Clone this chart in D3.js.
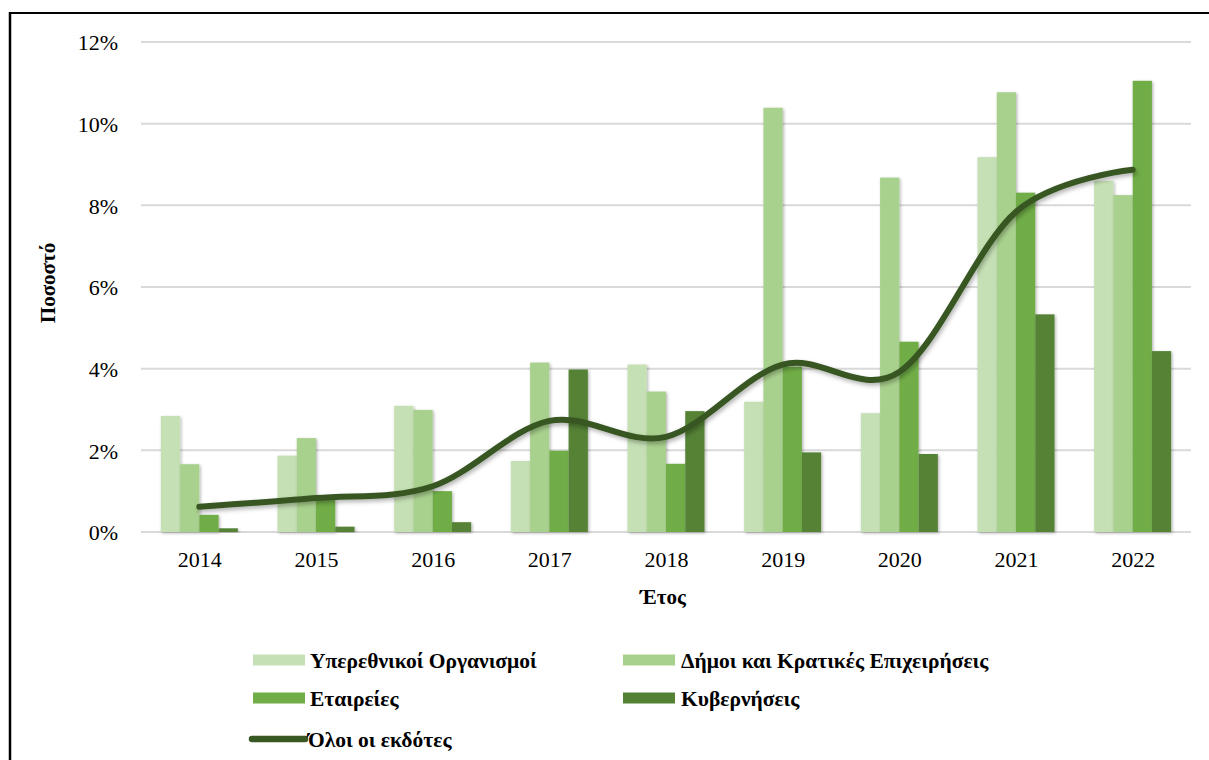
<!DOCTYPE html>
<html>
<head>
<meta charset="utf-8">
<script src="https://cdn.jsdelivr.net/npm/d3@7/dist/d3.min.js"></script>
<style>
  html, body { margin: 0; padding: 0; background: #fff; }
  svg text { font-family: "Liberation Serif", "Times New Roman", "DejaVu Serif", serif; fill: #000; }
</style>
</head>
<body>
<svg id="chart" width="1209" height="760"></svg>
<script>
// Share of issuance per issuer type, by year (percent)
const years = ["2014", "2015", "2016", "2017", "2018", "2019", "2020", "2021", "2022"];
const seriesNames = ["Υπερεθνικοί Οργανισμοί", "Δήμοι και Κρατικές Επιχειρήσεις", "Εταιρείες", "Κυβερνήσεις"];
const supranational = [2.84, 1.87, 3.09, 1.74, 4.10, 3.19, 2.91, 9.18, 8.60];
const municipal     = [1.66, 2.30, 2.99, 4.15, 3.44, 10.39, 8.68, 10.77, 8.25];
const corporate     = [0.42, 0.80, 1.00, 1.99, 1.67, 4.05, 4.66, 8.31, 11.05];
const government    = [0.09, 0.13, 0.24, 3.98, 2.96, 1.95, 1.91, 5.33, 4.43];
const allIssuers    = [0.62, 0.83, 1.12, 2.72, 2.33, 4.10, 3.92, 7.84, 8.87];
const lineName = "Όλοι οι εκδότες";
const yTicks = [0, 2, 4, 6, 8, 10, 12];

const colors = ["#c5e0b4", "#a9d18e", "#70ad47", "#548235"];
const lineColor = "#385723";
const seriesValues = [supranational, municipal, corporate, government];
const serif = "'Liberation Serif', 'Times New Roman', 'DejaVu Serif', serif";

const svg = d3.select("#chart");

// drop shadows for bars and line
const defs = svg.append("defs");
defs.append("filter").attr("id", "barShadow")
  .attr("x", "-20%").attr("y", "-5%").attr("width", "160%").attr("height", "120%")
  .append("feDropShadow").attr("dx", 1.2).attr("dy", 1.2).attr("stdDeviation", 1.4)
  .attr("flood-color", "#000").attr("flood-opacity", 0.3);
defs.append("filter").attr("id", "lineShadow")
  .attr("x", "-10%").attr("y", "-10%").attr("width", "120%").attr("height", "130%")
  .append("feDropShadow").attr("dx", 1.5).attr("dy", 2.5).attr("stdDeviation", 2)
  .attr("flood-color", "#000").attr("flood-opacity", 0.3);

// outer frame (left and top edges)
svg.append("line").attr("x1", 10).attr("y1", 13).attr("x2", 1209).attr("y2", 13)
  .attr("stroke", "#000").attr("stroke-width", 2);
svg.append("line").attr("x1", 10).attr("y1", 12).attr("x2", 10).attr("y2", 760)
  .attr("stroke", "#000").attr("stroke-width", 2.5);

const plot = { left: 141, right: 1191, top: 42, bottom: 532 };

const x = d3.scaleBand().domain(years).range([plot.left, plot.right])
  .paddingInner(0.34).paddingOuter(0.17);
const xCenter = d3.scalePoint().domain(years).range([plot.left, plot.right]).padding(0.5);
const xSub = d3.scaleBand().domain(d3.range(4)).range([0, x.bandwidth()]);
const y = d3.scaleLinear().domain([0, 12]).range([plot.bottom, plot.top]);

// gridlines
svg.append("g").selectAll("line").data(yTicks).join("line")
  .attr("x1", plot.left).attr("x2", plot.right)
  .attr("y1", d => y(d)).attr("y2", d => y(d))
  .attr("stroke", "#d9d9d9").attr("stroke-width", 2);

// y axis labels
const yAxis = d3.axisLeft(y).tickValues(yTicks).tickFormat(d => d + "%").tickSize(0).tickPadding(0);
svg.append("g").attr("transform", `translate(118,0)`).call(yAxis)
  .attr("font-family", serif)
  .call(g => g.select(".domain").remove())
  .call(g => g.selectAll("text").attr("font-size", 22).style("font-family", serif).attr("dy", "0.35em"));

// x axis labels
const xAxis = d3.axisBottom(xCenter).tickSize(0).tickPadding(0);
svg.append("g").attr("transform", `translate(0,${plot.bottom + 19})`).call(xAxis)
  .attr("font-family", serif)
  .call(g => g.select(".domain").remove())
  .call(g => g.selectAll("text").attr("font-size", 22).style("font-family", serif).attr("dy", "0.71em"));

// bars
const barData = [];
years.forEach((yr, i) => seriesValues.forEach((vals, s) => barData.push({ yr, s, v: vals[i] })));
svg.append("g").selectAll("rect").data(barData).join("rect")
  .attr("x", d => x(d.yr) + xSub(d.s))
  .attr("width", xSub.bandwidth())
  .attr("y", d => y(d.v))
  .attr("height", d => y(0) - y(d.v))
  .attr("fill", d => colors[d.s])
  .attr("filter", "url(#barShadow)");

// smoothed total line
const line = d3.line()
  .x((d, i) => xCenter(years[i]))
  .y(d => y(d))
  .curve(d3.curveCardinal.tension(0));
svg.append("path").datum(allIssuers)
  .attr("d", line)
  .attr("fill", "none")
  .attr("stroke", lineColor)
  .attr("stroke-width", 6)
  .attr("stroke-linecap", "round")
  .attr("filter", "url(#lineShadow)");

// axis titles
svg.append("text").attr("x", 663).attr("y", 604).attr("text-anchor", "middle")
  .style("font-family", serif).attr("font-size", 21).attr("font-weight", "bold").text("Έτος");
svg.append("text").attr("transform", "translate(55,283) rotate(-90)").attr("text-anchor", "middle")
  .style("font-family", serif).attr("font-size", 21).attr("font-weight", "bold").text("Ποσοστό");

// legend
const legendPos = [
  { sx: 253, tx: 310, y: 660 },
  { sx: 623, tx: 681, y: 660 },
  { sx: 253, tx: 310, y: 698 },
  { sx: 623, tx: 681, y: 698 }
];
const legend = svg.append("g");
seriesNames.forEach((name, i) => {
  const p = legendPos[i];
  legend.append("rect").attr("x", p.sx).attr("y", p.y - 5.5).attr("width", 52).attr("height", 11)
    .attr("fill", colors[i]);
  legend.append("text").attr("x", p.tx).attr("y", p.y).attr("dy", "0.35em")
    .style("font-family", serif).attr("font-size", 21.5).attr("font-weight", "bold").text(name);
});
legend.append("line").attr("x1", 252).attr("x2", 305).attr("y1", 739).attr("y2", 739)
  .attr("stroke", lineColor).attr("stroke-width", 6.5).attr("stroke-linecap", "round");
legend.append("text").attr("x", 308).attr("y", 739).attr("dy", "0.35em")
  .style("font-family", serif).attr("font-size", 21.5).attr("font-weight", "bold").text(lineName);
</script>
</body>
</html>
